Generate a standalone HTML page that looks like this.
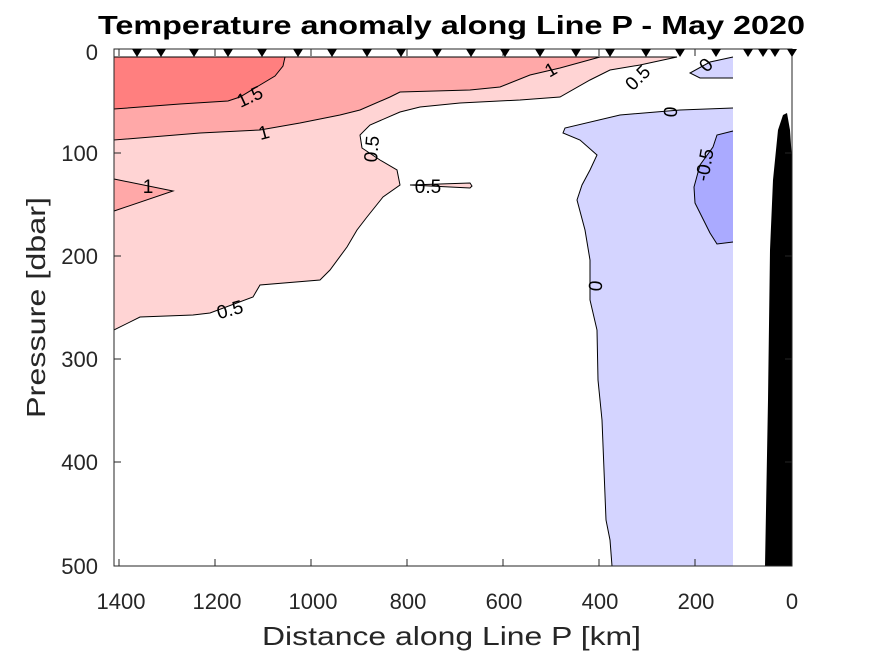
<!DOCTYPE html>
<html><head><meta charset="utf-8"><style>body{margin:0;background:#fff}svg{display:block}</style></head><body>
<svg width="875" height="656" viewBox="0 0 875 656" xmlns="http://www.w3.org/2000/svg" font-family="Liberation Sans, sans-serif">
<rect width="875" height="656" fill="#fff"/>
<!-- 0.5 region -->
<path d="M114,57 L677,57 L640,65 L610,70 L590,80 L560,97 L520,100 L460,103 L420,107 L400,112 L370,125 L360,135 L362,148 L380,160 L397,170 L400,185 L383,197 L367,217 L357,230 L347,247 L330,270 L320,280 L260,285 L253,297 L210,313 L193,315 L140,317 L114,330 Z" fill="#ffd4d4" stroke="#000" stroke-width="1"/>
<path d="M410,185 L470,183 L472,186 L470,188 Z" fill="#ffd4d4" stroke="#000" stroke-width="1"/>
<!-- 1 region -->
<path d="M114,57 L600,57 L560,68 L530,75 L500,87 L470,90 L400,92 L390,97 L360,110 L340,115 L300,123 L260,130 L200,133 L114,140 Z" fill="#ffa8a8" stroke="#000" stroke-width="1"/>
<path d="M114,179 L173,191 L114,211 Z" fill="#ffa8a8" stroke="#000" stroke-width="1"/>
<!-- 1.5 region -->
<path d="M114,57 L285,57 L283,66 L275,76 L260,85 L240,97 L228,101 L180,104 L114,109 Z" fill="#ff7f7f" stroke="#000" stroke-width="1"/>
<!-- blue -->
<path d="M690,73 L710,62 L733,57 L733,78 L700,78 Z" fill="#d4d4ff"/>
<path d="M733,78 L700,78 L690,73 L710,62 L733,57" fill="none" stroke="#000" stroke-width="1"/>
<path d="M733,108 L680,110 L620,115 L565,128 L563,133 L580,140 L597,155 L590,170 L582,185 L577,200 L585,230 L590,260 L590,300 L597,330 L598,380 L602,420 L604,470 L606,520 L610,540 L612,566 L733,566 Z" fill="#d4d4ff"/>
<path d="M733,108 L680,110 L620,115 L565,128 L563,133 L580,140 L597,155 L590,170 L582,185 L577,200 L585,230 L590,260 L590,300 L597,330 L598,380 L602,420 L604,470 L606,520 L610,540 L612,566" fill="none" stroke="#000" stroke-width="1"/>
<path d="M733,131 L717,135 L713,147 L700,165 L694,187 L695,203 L710,233 L717,244 L733,242 Z" fill="#aaaaff"/>
<path d="M733,131 L717,135 L713,147 L700,165 L694,187 L695,203 L710,233 L717,244 L733,242" fill="none" stroke="#000" stroke-width="1"/>
<!-- topography -->
<path d="M765,566 L768,400 L770,250 L773,180 L778,130 L783,115 L787,113 L790,130 L792,160 L792,566 Z" fill="#000"/>
<!-- contour labels -->
<g font-size="19" fill="#000" text-anchor="middle">
<text x="250" y="103" transform="rotate(-25 250 97)">1.5</text>
<text x="264" y="139" transform="rotate(-15 264 133)">1</text>
<text x="148" y="193">1</text>
<text x="372" y="155" transform="rotate(-85 372 149)">0.5</text>
<text x="428" y="193">0.5</text>
<text x="230" y="316" transform="rotate(-15 230 310)">0.5</text>
<text x="551" y="76" transform="rotate(-30 551 70)">1</text>
<text x="638" y="84" transform="rotate(-45 638 78)">0.5</text>
<text x="707" y="71" transform="rotate(-45 707 66)">0</text>
<text x="671" y="118" transform="rotate(-85 671 112)">0</text>
<text x="705" y="171" transform="rotate(-80 705 165)">-0.5</text>
<text x="596" y="292" transform="rotate(-85 596 286)">0</text>
</g>
<!-- axes -->
<rect x="114" y="49" width="678" height="517" fill="none" stroke="#262626" stroke-width="1"/>
<g stroke="#262626" stroke-width="1">
<line x1="119" y1="566" x2="119" y2="559"/><line x1="215" y1="566" x2="215" y2="559"/><line x1="311" y1="566" x2="311" y2="559"/><line x1="407" y1="566" x2="407" y2="559"/><line x1="503" y1="566" x2="503" y2="559"/><line x1="599" y1="566" x2="599" y2="559"/><line x1="695" y1="566" x2="695" y2="559"/>
<line x1="119" y1="49" x2="119" y2="56"/><line x1="215" y1="49" x2="215" y2="56"/><line x1="311" y1="49" x2="311" y2="56"/><line x1="407" y1="49" x2="407" y2="56"/><line x1="503" y1="49" x2="503" y2="56"/><line x1="599" y1="49" x2="599" y2="56"/><line x1="695" y1="49" x2="695" y2="56"/>
<line x1="114" y1="153" x2="121" y2="153"/><line x1="114" y1="256" x2="121" y2="256"/><line x1="114" y1="359" x2="121" y2="359"/><line x1="114" y1="462" x2="121" y2="462"/>
<line x1="792" y1="153" x2="785" y2="153"/><line x1="792" y1="256" x2="785" y2="256"/><line x1="792" y1="359" x2="785" y2="359"/><line x1="792" y1="462" x2="785" y2="462"/>
</g>
<!-- station markers -->
<g fill="#000">
<path d="M-5,49 L5,49 L0,57 Z" transform="translate(137,0)"/>
<path d="M-5,49 L5,49 L0,57 Z" transform="translate(161,0)"/>
<path d="M-5,49 L5,49 L0,57 Z" transform="translate(194,0)"/>
<path d="M-5,49 L5,49 L0,57 Z" transform="translate(228,0)"/>
<path d="M-5,49 L5,49 L0,57 Z" transform="translate(262,0)"/>
<path d="M-5,49 L5,49 L0,57 Z" transform="translate(298,0)"/>
<path d="M-5,49 L5,49 L0,57 Z" transform="translate(332,0)"/>
<path d="M-5,49 L5,49 L0,57 Z" transform="translate(367,0)"/>
<path d="M-5,49 L5,49 L0,57 Z" transform="translate(401,0)"/>
<path d="M-5,49 L5,49 L0,57 Z" transform="translate(437,0)"/>
<path d="M-5,49 L5,49 L0,57 Z" transform="translate(471,0)"/>
<path d="M-5,49 L5,49 L0,57 Z" transform="translate(505,0)"/>
<path d="M-5,49 L5,49 L0,57 Z" transform="translate(540,0)"/>
<path d="M-5,49 L5,49 L0,57 Z" transform="translate(576,0)"/>
<path d="M-5,49 L5,49 L0,57 Z" transform="translate(610,0)"/>
<path d="M-5,49 L5,49 L0,57 Z" transform="translate(646,0)"/>
<path d="M-5,49 L5,49 L0,57 Z" transform="translate(680,0)"/>
<path d="M-5,49 L5,49 L0,57 Z" transform="translate(716,0)"/>
<path d="M-5,49 L5,49 L0,57 Z" transform="translate(748,0)"/>
<path d="M-5,49 L5,49 L0,57 Z" transform="translate(763,0)"/>
<path d="M-5,49 L5,49 L0,57 Z" transform="translate(775,0)"/>
<path d="M-5,49 L5,49 L0,57 Z" transform="translate(792,0)"/>
</g>
<!-- tick labels -->
<g font-size="22" fill="#262626" text-anchor="middle">
<text x="121" y="609">1400</text><text x="217" y="609">1200</text><text x="313" y="609">1000</text><text x="408" y="609">800</text><text x="504" y="609">600</text><text x="600" y="609">400</text><text x="696" y="609">200</text><text x="792" y="609">0</text>
</g>
<g font-size="22" fill="#262626" text-anchor="end">
<text x="98" y="60">0</text><text x="98" y="161">100</text><text x="98" y="264">200</text><text x="98" y="367">300</text><text x="98" y="470">400</text><text x="98" y="574">500</text>
</g>
<text x="262" y="645" font-size="26" fill="#262626" textLength="379" lengthAdjust="spacingAndGlyphs">Distance along Line P [km]</text>
<text x="45" y="418" font-size="26" fill="#262626" textLength="221" lengthAdjust="spacingAndGlyphs" transform="rotate(-90 45 418)">Pressure [dbar]</text>
<text x="98" y="34" font-size="26" font-weight="bold" fill="#000" textLength="707" lengthAdjust="spacingAndGlyphs">Temperature anomaly along Line P - May 2020</text>
</svg>
</body></html>
